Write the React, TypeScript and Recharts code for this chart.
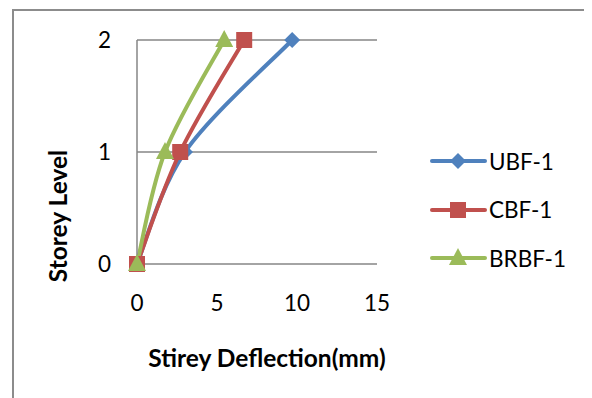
import { CartesianGrid, Line, LineChart, XAxis, YAxis } from "recharts";

const storeys = [0, 1, 2];
const ubf1 = [0, 3.0, 9.7];
const cbf1 = [0, 2.7, 6.7];
const brbf1 = [0, 1.75, 5.45];
const xTicks = [0, 5, 10, 15];
const yTicks = [0, 1, 2];

const FONT = "Lato, 'Open Sans', sans-serif";

const toPoints = (vals: number[]) => vals.map((d, i) => ({ defl: d, level: storeys[i] }));

const series = [
  { name: "UBF-1", color: "#4F81BD", shape: "diamond", values: ubf1 },
  { name: "CBF-1", color: "#C0504D", shape: "square", values: cbf1 },
  { name: "BRBF-1", color: "#9BBB59", shape: "triangle", values: brbf1 },
];

// Excel-like smoothed line (Catmull-Rom style bezier)
function excelSmooth(context: any) {
  let pts: [number, number][] = [];
  return {
    areaStart() {},
    areaEnd() {},
    lineStart() {
      pts = [];
    },
    point(x: number, y: number) {
      pts.push([+x, +y]);
    },
    lineEnd() {
      if (!pts.length) return;
      context.moveTo(pts[0][0], pts[0][1]);
      for (let i = 0; i < pts.length - 1; i++) {
        const p0 = pts[Math.max(i - 1, 0)];
        const p1 = pts[i];
        const p2 = pts[i + 1];
        const p3 = pts[Math.min(i + 2, pts.length - 1)];
        context.bezierCurveTo(
          p1[0] + (p2[0] - p0[0]) / 6,
          p1[1] + (p2[1] - p0[1]) / 6,
          p2[0] - (p3[0] - p1[0]) / 6,
          p2[1] - (p3[1] - p1[1]) / 6,
          p2[0],
          p2[1]
        );
      }
    },
  };
}

function Marker({ cx, cy, shape, color }: { cx: number; cy: number; shape: string; color: string }) {
  if (shape === "diamond") {
    return <path d={`M${cx},${cy - 8}L${cx + 8},${cy}L${cx},${cy + 8}L${cx - 8},${cy}Z`} fill={color} />;
  }
  if (shape === "square") {
    return <rect x={cx - 8} y={cy - 8} width={16} height={16} fill={color} />;
  }
  return <path d={`M${cx},${cy - 10}L${cx + 9},${cy + 7}L${cx - 9},${cy + 7}Z`} fill={color} />;
}

export default function App() {
  return (
    <div style={{ position: "relative", width: 584, height: 390, fontFamily: FONT }}>
      <div
        style={{
          position: "absolute",
          left: 4,
          top: 1,
          right: -20,
          bottom: -20,
          borderLeft: "2px solid #8c8c8c",
          borderTop: "2px solid #8c8c8c",
        }}
      />
      <LineChart
        width={584}
        height={390}
        margin={{ top: 32, right: 215, bottom: 74, left: 0 }}
        style={{ position: "absolute", left: 0, top: 0 }}
      >
        <CartesianGrid horizontal vertical={false} stroke="#868686" strokeWidth={1.5} />
        <XAxis
          dataKey="defl"
          type="number"
          domain={[0, 15]}
          ticks={xTicks}
          axisLine={false}
          tickLine={false}
          tickMargin={25}
          height={60}
          tick={{ fontSize: 22.5, fill: "#000", fontFamily: FONT }}
        />
        <YAxis
          dataKey="level"
          type="number"
          domain={[0, 2]}
          ticks={yTicks}
          width={129}
          axisLine={{ stroke: "#868686", strokeWidth: 1.5 }}
          tickLine={false}
          tickMargin={20}
          tick={{ fontSize: 22.5, fill: "#000", fontFamily: FONT }}
        />
        {series.map((s) => (
          <Line
            key={s.name}
            name={s.name}
            data={toPoints(s.values)}
            dataKey="level"
            type={excelSmooth as any}
            stroke={s.color}
            strokeWidth={4}
            isAnimationActive={false}
            dot={(p: any) => (
              <Marker key={`${s.name}-${p.index}`} cx={p.cx} cy={p.cy} shape={s.shape} color={s.color} />
            )}
          />
        ))}
        <text
          x={259}
          y={349}
          textAnchor="middle"
          dominantBaseline="central"
          fontWeight="bold"
          fontSize={24.5}
          fontFamily={FONT}
          fill="#000"
        >
          Stirey Deflection(mm)
        </text>
        <text
          x={49}
          y={208}
          transform="rotate(-90 49 208)"
          textAnchor="middle"
          dominantBaseline="central"
          fontWeight="bold"
          fontSize={24.5}
          fontFamily={FONT}
          fill="#000"
        >
          Storey Level
        </text>
      </LineChart>
      <div style={{ position: "absolute", left: 422, top: 129 }}>
        {series.map((s) => (
          <div key={s.name} style={{ display: "flex", alignItems: "center", height: 48.5 }}>
            <svg width={59} height={24}>
              <line x1={2} y1={12} x2={55} y2={12} stroke={s.color} strokeWidth={4} strokeLinecap="round" />
              <Marker cx={28} cy={12} shape={s.shape} color={s.color} />
            </svg>
            <span style={{ fontSize: 22.5, color: "#000" }}>{s.name}</span>
          </div>
        ))}
      </div>
    </div>
  );
}
